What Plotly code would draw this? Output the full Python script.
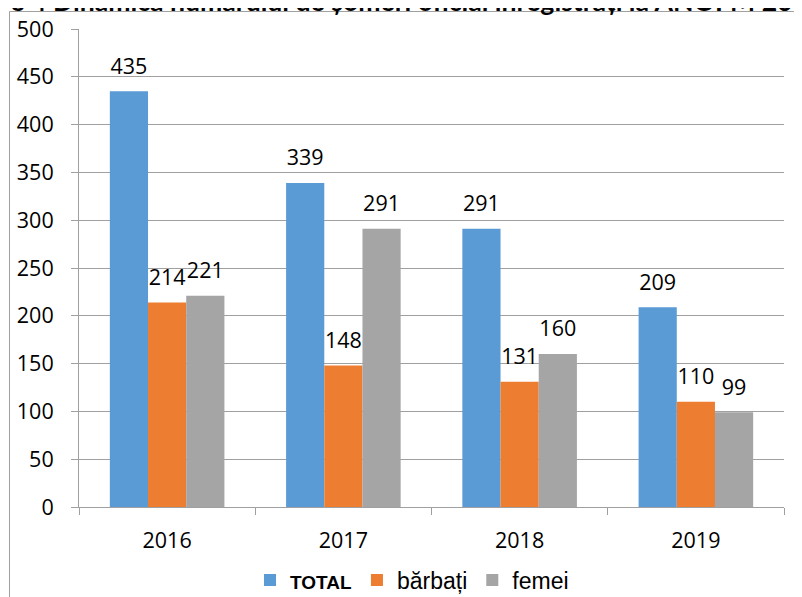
import plotly.graph_objects as go

years = ["2016", "2017", "2018", "2019"]
total = [435, 339, 291, 209]
barbati = [214, 148, 131, 110]
femei = [221, 291, 160, 99]

series_names = ["<span style='font-size:19px'><b>TOTAL</b></span>", "bărbați", "femei"]
series_values = [total, barbati, femei]
colors = ["#5B9BD5", "#ED7D31", "#A5A5A5"]

title_text = "Figure 4 Dinamica numărului de șomeri oficial înregistrați la ANOFM 2016-2019"

W, H = 802, 597
OFF = 8  # page offset of the figure (body margin)
L, R, T, B = 71, 26, 21, 98
pw, ph = W - L - R, H - T - B


def px(x):
    return (x - OFF - L) / pw


def py(y):
    return (H - B - (y - OFF)) / ph


fig = go.Figure()
for i, (name, vals, col) in enumerate(zip(series_names, series_values, colors)):
    fig.add_trace(go.Bar(
        x=years, y=vals, name=name, marker=dict(color=col, line=dict(width=0)),
        offsetgroup=str(i),
    ))
for i, (vals, col) in enumerate(zip(series_values, colors)):
    fig.add_trace(go.Scatter(
        x=years, y=vals, mode="markers+text", text=[str(v) for v in vals],
        textposition="top center", showlegend=False, hoverinfo="skip",
        marker=dict(size=18, opacity=0, color=col),
        textfont=dict(family="Open Sans", size=21.5, color="#000000"),
        offsetgroup=str(i), cliponaxis=False,
    ))

fig.update_layout(
    width=W, height=H,
    margin=dict(l=L, r=R, t=T, b=B, autoexpand=False),
    paper_bgcolor="white", plot_bgcolor="white",
    barmode="group", bargap=0.35, bargroupgap=0,
    scattermode="group", scattergap=0.35,
    font=dict(family="Open Sans", size=21.5, color="#000000"),
    showlegend=True,
    legend=dict(
        orientation="h", x=px(412), y=py(580), xanchor="center", yanchor="middle",
        font=dict(family="Liberation Sans, Arial", size=23, color="#000000"),
        itemwidth=30, tracegroupgap=0, bgcolor="rgba(0,0,0,0)",
    ),
    xaxis=dict(
        type="category", showline=True, linecolor="#a0a0a0", linewidth=1,
        ticks="outside", tickson="boundaries", ticklen=7, tickcolor="#a0a0a0",
        tickfont=dict(family="Open Sans", size=21.5, color="#000000"),
        ticklabelstandoff=14, showgrid=False, zeroline=False, automargin=False,
    ),
    yaxis=dict(
        range=[0, 500], dtick=50, showline=True, linecolor="#a0a0a0", linewidth=1,
        ticks="outside", ticklen=7, tickcolor="#a0a0a0",
        showgrid=True, gridcolor="#a0a0a0", gridwidth=1, zeroline=False,
        tickfont=dict(family="Open Sans", size=21.5, color="#000000"),
        ticklabelstandoff=13, automargin=False,
    ),
    shapes=[
        dict(type="line", xref="paper", yref="paper", x0=px(9.5), x1=px(9.5),
             y0=py(11.5), y1=py(620), line=dict(color="#a0a0a0", width=1)),
        dict(type="line", xref="paper", yref="paper", x0=px(9.5), x1=px(830),
             y0=py(11.5), y1=py(11.5), line=dict(color="#a0a0a0", width=1)),
    ],
    annotations=[
        dict(text="<b>" + title_text + "</b>", xref="paper", yref="paper",
             x=px(-52), y=py(1), xanchor="left", yanchor="middle", showarrow=False,
             font=dict(family="Lato", size=26.6, color="#000000")),
    ],
)

fig.write_html("out.html")
